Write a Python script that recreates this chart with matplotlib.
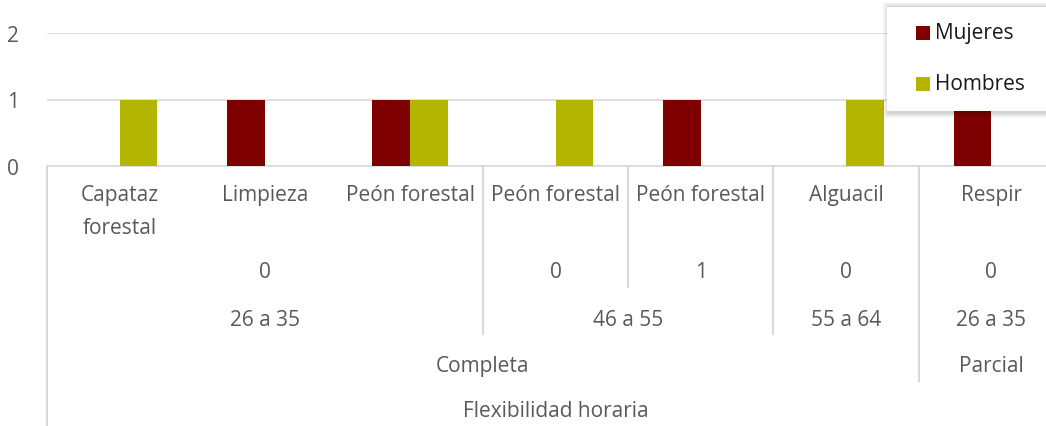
import matplotlib
matplotlib.use("Agg")
from matplotlib import pyplot as plt
from matplotlib.transforms import blended_transform_factory
from matplotlib.patches import Rectangle

plt.rcParams['font.family'] = ['Open Sans', 'DejaVu Sans']

# categorias (nivel 1) y valores
puestos = ["Capataz\nforestal", "Limpieza", "Peón forestal", "Peón forestal",
           "Peón forestal", "Alguacil", "Respir"]
mujeres = [0, 1, 1, 0, 1, 0, 1]
hombres = [1, 0, 1, 1, 0, 1, 0]

# niveles superiores del eje: etiqueta y numero de categorias que abarca
hijos = ["0", "0", "1", "0", "0"]
hijos_n = [3, 1, 1, 1, 1]
edades = ["26 a 35", "46 a 55", "55 a 64", "26 a 35"]
edades_n = [3, 2, 1, 1]
jornada = ["Completa", "Parcial"]
jornada_n = [6, 1]
flex = ["Flexibilidad horaria"]
flex_n = [7]

series = ["Mujeres", "Hombres"]

C_MUJ = "#7f0000"
C_HOM = "#b3b500"
GRIS = "#595959"
LINEA = "#d9d9d9"
FS = 15

W, H = 1046, 427
fig = plt.figure(figsize=(W / 100, H / 100), dpi=100)
ax = fig.add_axes([47 / W, (H - 167) / H, 1017 / W, 133 / H])

x = list(range(len(puestos)))
bw = 0.26
ax.bar([i - bw / 2 for i in x], mujeres, bw, color=C_MUJ, zorder=3)
ax.bar([i + bw / 2 for i in x], hombres, bw, color=C_HOM, zorder=3)

ax.set_xlim(-0.5, len(puestos) - 0.5)
ax.set_ylim(0, 2)
ax.set_yticks([0, 1, 2])
ax.tick_params(axis='y', length=0, labelsize=FS, labelcolor=GRIS, pad=20)
ax.set_xticks([])
ax.grid(axis='y', color=LINEA, lw=1.2, zorder=0)
for s in ['left', 'right', 'top']:
    ax.spines[s].set_visible(False)
ax.spines['bottom'].set_color(LINEA)
ax.spines['bottom'].set_linewidth(1.2)

tr = blended_transform_factory(ax.transData, fig.transFigure)
def fy(py):
    return 1 - py / H

# nivel 1
for i, p in enumerate(puestos):
    ax.text(i, fy(185), p, transform=tr, ha='center', va='top', fontsize=FS,
            color=GRIS, linespacing=1.75)

niveles = [(hijos, hijos_n), (edades, edades_n), (jornada, jornada_n), (flex, flex_n)]
fila_y = [273, 320, 367, 412]
fondo = [243, 288, 335, 382, 426]

# posicion de cada grupo y profundidad de cada separador
prof = {}
for k, (labs, ns) in enumerate(niveles):
    ini = 0
    for lab, n in zip(labs, ns):
        ax.text(ini + (n - 1) / 2, fy(fila_y[k]), lab, transform=tr, ha='center',
                va='center', fontsize=FS, color=GRIS)
        ini += n
        prof[ini] = k + 1
    prof[0] = k + 1

for b, k in prof.items():
    if b >= len(puestos):
        continue
    ax.plot([b - 0.5, b - 0.5], [fy(167), fy(fondo[k])], transform=tr,
            color=LINEA, lw=1.5, clip_on=False)

# leyenda a mano (caja con sombra suave que sale por la derecha)
lx, ly, lw_, lh = 887, 8, 200, 104
for d, a in [(6, 0.04), (4, 0.06), (2, 0.08)]:
    fig.patches.append(Rectangle(((lx - d + 2) / W, 1 - (ly + lh + d + 1) / H), (lw_ + 2 * d) / W,
                                 (lh + 2 * d) / H, transform=fig.transFigure,
                                 facecolor='black', alpha=a, edgecolor='none', zorder=5))
fig.patches.append(Rectangle((lx / W, 1 - (ly + lh) / H), lw_ / W, lh / H,
                             transform=fig.transFigure, facecolor='white',
                             edgecolor='none', zorder=6))
for j, (nom, col) in enumerate(zip(series, [C_MUJ, C_HOM])):
    cy = 34 + j * 51
    fig.patches.append(Rectangle((916 / W, 1 - (cy + 7) / H), 14 / W, 14 / H,
                                 transform=fig.transFigure, facecolor=col,
                                 edgecolor='none', zorder=7))
    fig.text(935 / W, 1 - cy / H, nom, ha='left', va='center', fontsize=FS,
             color="#1a1a1a", zorder=8)

fig.savefig("out.png", dpi=100)
